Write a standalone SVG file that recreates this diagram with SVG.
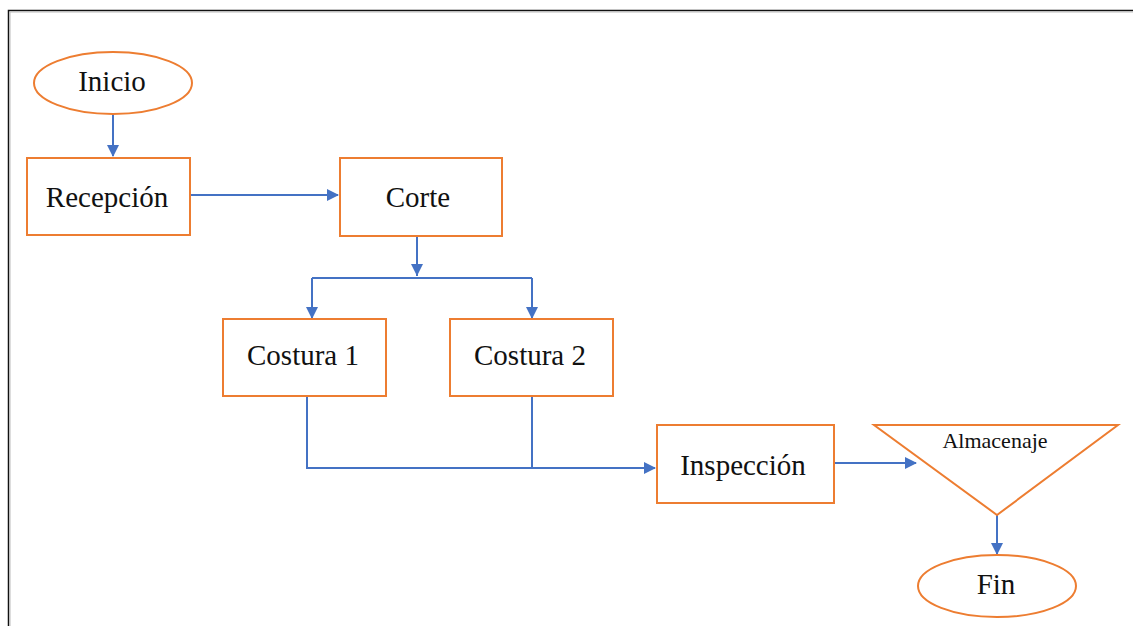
<svg xmlns="http://www.w3.org/2000/svg" width="1133" height="626" viewBox="0 0 1133 626">
<defs>
<style>
.n{fill:#fff;stroke:#ED7D31;stroke-width:2}
.t{font-family:"Liberation Serif","Times New Roman",serif;font-size:29px;fill:#111;text-anchor:middle}
.c{fill:none;stroke:#4472C4;stroke-width:2}
</style>
<marker id="a" markerWidth="12" markerHeight="12" refX="11" refY="6" orient="auto" markerUnits="userSpaceOnUse" viewBox="0 0 12 12"><path d="M0,0 L12,6 L0,12 z" fill="#4472C4"/></marker>
</defs>
<rect width="1133" height="626" fill="#fff"/>
<path d="M8.5,626 V10.5 H1133" fill="none" stroke="#111" stroke-width="1.5"/>
<path d="M10,626 V12 H1133" fill="none" stroke="#bbb" stroke-width="1"/>
<g id="connectors">
<path class="c" d="M113,115 V156" marker-end="url(#a)"/>
<path class="c" d="M190,195 H338" marker-end="url(#a)"/>
<path class="c" d="M417,236 V276"/>
<path d="M411,264 L423,264 L417,276 z" fill="#4472C4"/>
<path class="c" d="M312,278 H532"/>
<path class="c" d="M312,278 V318" marker-end="url(#a)"/>
<path class="c" d="M532,278 V318" marker-end="url(#a)"/>
<path class="c" d="M307,396 V468 H655" marker-end="url(#a)"/>
<path class="c" d="M532,396 V468"/>
<path class="c" d="M834,463 H916" marker-end="url(#a)"/>
<path class="c" d="M997,515 V554" marker-end="url(#a)"/>
</g>
<g id="inicio"><ellipse class="n" cx="113" cy="83" rx="79" ry="31"/><text class="t" x="112" y="91">Inicio</text></g>
<g id="recepcion"><rect class="n" x="27" y="158" width="163" height="77"/><text class="t" x="107" y="207">Recepción</text></g>
<g id="corte"><rect class="n" x="340" y="158" width="162" height="78"/><text class="t" x="418" y="207">Corte</text></g>
<g id="costura1"><rect class="n" x="223" y="319" width="163" height="77"/><text class="t" x="303" y="365">Costura 1</text></g>
<g id="costura2"><rect class="n" x="450" y="319" width="163" height="77"/><text class="t" x="530" y="365">Costura 2</text></g>
<g id="inspeccion"><rect class="n" x="657" y="425" width="177" height="78"/><text class="t" x="743" y="475">Inspección</text></g>
<g id="almacenaje"><path class="n" d="M874,425 H1118 L997,515 z"/><text class="t" x="995" y="448" style="font-size:22px">Almacenaje</text></g>
<g id="fin"><ellipse class="n" cx="997" cy="586" rx="79" ry="31"/><text class="t" x="996" y="594">Fin</text></g>
</svg>
